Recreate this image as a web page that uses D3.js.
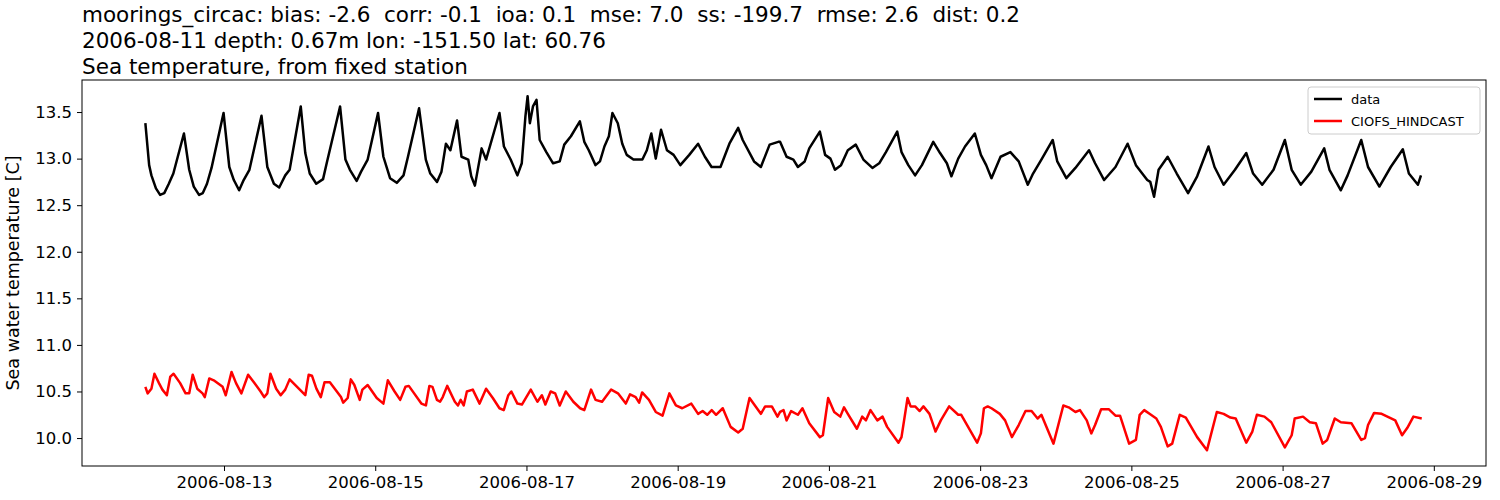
<!DOCTYPE html>
<html>
<head>
<meta charset="utf-8">
<script src="https://cdn.jsdelivr.net/npm/d3@7"></script>
<style>
  body { margin: 0; background: #fff; }
  text { font-family: "DejaVu Sans", sans-serif; }
  .title { white-space: pre; }
</style>
</head>
<body>
<svg id="chart" width="1500" height="500"></svg>
<script>
'use strict'

const titleLines = [
  'moorings_circac: bias: -2.6  corr: -0.1  ioa: 0.1  mse: 7.0  ss: -199.7  rmse: 2.6  dist: 0.2',
  '2006-08-11 depth: 0.67m lon: -151.50 lat: 60.76',
  'Sea temperature, from fixed station'
]
const yLabel = 'Sea water temperature [C]'
const yTicks = [10.0, 10.5, 11.0, 11.5, 12.0, 12.5, 13.0, 13.5]
const xTickDays = ['2006-08-13', '2006-08-15', '2006-08-17', '2006-08-19', '2006-08-21',
  '2006-08-23', '2006-08-25', '2006-08-27', '2006-08-29']

// time in days relative to 2006-08-13 00:00
const dataDays = [-1.04,-0.99,-0.96,-0.90,-0.845,-0.79,-0.73,-0.67,-0.53,-0.46,-0.40,-0.33,-0.28,-0.225,-0.165,-0.006,
  0.07,0.13,0.20,0.26,0.336,0.496,0.573,0.66,0.73,0.81,0.868,1.015,1.075,1.134,1.22,1.31,1.358,1.535,1.606,1.665,1.754,1.813,1.90,
  2.037,2.108,2.196,2.285,2.374,2.433,2.58,2.669,2.728,2.817,2.876,2.935,2.994,3.082,3.141,3.23,3.27,3.318,3.407,3.466,3.643,3.702,
  3.791,3.88,3.938,3.986,4.015,4.045,4.086,4.133,4.175,4.263,4.352,4.44,4.50,4.588,4.706,4.765,4.824,4.913,4.972,5.031,5.09,5.137,
  5.208,5.267,5.326,5.415,5.533,5.592,5.651,5.71,5.78,5.858,5.946,6.035,6.153,6.27,6.36,6.448,6.566,6.684,6.80,6.86,7.01,7.10,7.216,7.33,
  7.354,7.44,7.53,7.59,7.68,7.74,7.88,7.95,8.02,8.08,8.16,8.25,8.355,8.456,8.575,8.665,8.754,8.903,8.96,9.05,9.14,9.23,9.38,9.47,
  9.56,9.62,9.71,9.80,9.93,10.01,10.08,10.15,10.27,10.40,10.51,10.63,10.70,10.81,10.96,11.02,11.14,11.26,11.44,11.52,11.64,11.79,
  11.95,12.06,12.21,12.25,12.30,12.36,12.48,12.60,12.75,12.87,13.02,13.10,13.22,13.37,13.52,13.61,13.73,13.88,14.03,14.12,14.24,
  14.38,14.55,14.62,14.77,14.86,15.04,15.13,15.28,15.43,15.59,15.67,15.79,15.83]
const dataValues = [13.38,12.93,12.82,12.68,12.61,12.63,12.73,12.84,13.27,12.88,12.70,12.61,12.63,12.73,12.90,13.49,
  12.91,12.77,12.66,12.77,12.88,13.46,12.91,12.73,12.69,12.82,12.88,13.56,13.06,12.84,12.73,12.78,12.95,13.56,12.99,12.88,12.76,12.86,12.99,
  13.49,13.02,12.79,12.74,12.82,13.02,13.54,12.99,12.84,12.75,12.86,13.16,13.09,13.41,13.02,12.99,12.81,12.71,13.11,12.99,13.49,13.13,
  12.99,12.82,12.95,13.45,13.67,13.38,13.56,13.63,13.20,13.07,12.95,12.97,13.15,13.24,13.40,13.18,13.09,12.93,12.97,13.13,13.24,13.49,
  13.38,13.16,13.04,12.99,12.99,13.09,13.27,13.00,13.31,13.09,13.04,12.93,13.04,13.16,13.02,12.91,12.91,13.16,13.33,13.20,12.97,12.91,13.15,13.18,
  13.18,13.02,12.99,12.91,12.97,13.11,13.29,13.04,13.00,12.88,12.93,13.09,13.15,12.99,12.90,12.95,13.07,13.29,13.07,12.93,12.82,12.93,13.18,13.06,
  12.95,12.81,13.00,13.13,13.27,13.04,12.93,12.79,13.02,13.07,12.97,12.72,12.84,12.99,13.20,12.97,12.79,12.90,13.09,12.95,12.77,12.91,
  13.16,12.93,12.77,12.75,12.59,12.88,13.02,12.84,12.63,12.81,13.13,12.91,12.72,12.88,13.06,12.84,12.72,12.88,13.20,12.88,12.72,
  12.86,13.11,12.88,12.66,12.82,13.20,12.91,12.70,12.91,13.10,12.84,12.72,12.82]

const modelDays = [-1.04,-1.01,-0.96,-0.92,-0.86,-0.815,-0.756,-0.71,-0.667,-0.58,-0.508,-0.46,-0.414,-0.354,-0.284,-0.254,-0.195,-0.136,
  -0.018,0.023,0.10,0.159,0.23,0.319,0.395,0.484,0.531,0.573,0.614,0.69,0.75,0.81,0.868,1.075,1.12,1.163,1.222,1.28,1.33,1.40,1.547,
  1.577,1.636,1.677,1.724,1.795,1.83,1.90,2.02,2.108,2.167,2.256,2.33,2.40,2.444,2.61,2.67,2.716,2.757,2.816,2.858,2.893,2.952,3.053,
  3.094,3.13,3.17,3.212,3.29,3.38,3.466,3.555,3.643,3.70,3.76,3.80,3.88,3.94,4.057,4.145,4.204,4.25,4.32,4.38,4.44,4.52,4.62,4.71,
  4.765,4.854,4.913,5.00,5.12,5.21,5.314,5.37,5.444,5.49,5.53,5.62,5.71,5.80,5.89,5.976,6.06,6.18,6.27,6.33,6.39,6.45,6.508,6.596,
  6.70,6.80,6.86,6.95,7.10,7.157,7.245,7.32,
  7.354,7.40,7.44,7.50,7.59,7.65,7.74,7.88,7.92,7.99,8.07,8.15,8.20,8.25,8.37,8.44,8.49,8.55,8.64,8.71,8.77,8.92,8.96,9.04,9.08,
  9.14,9.20,9.25,9.33,9.41,9.48,9.59,9.71,9.75,9.96,10.01,10.05,10.10,10.15,10.26,10.33,10.42,10.51,10.60,10.68,10.76,10.81,10.97,
  11.10,11.17,11.26,11.32,11.41,11.47,11.52,11.60,11.70,11.79,11.85,11.97,12.06,12.11,12.17,12.24,12.33,12.39,12.48,12.54,12.64,
  12.72,12.87,13.00,13.13,13.22,13.31,13.38,13.52,13.60,13.66,13.76,13.85,14.03,14.12,14.16,14.27,14.36,14.44,14.53,14.59,14.69,
  14.77,14.91,15.04,15.09,15.13,15.21,15.31,15.49,15.58,15.65,15.73,15.84]
const modelValues = [10.55,10.48,10.53,10.69,10.59,10.52,10.46,10.66,10.69,10.59,10.48,10.48,10.68,10.53,10.48,10.44,10.64,10.62,
  10.55,10.46,10.71,10.59,10.48,10.68,10.60,10.50,10.44,10.48,10.69,10.53,10.46,10.52,10.63,10.46,10.68,10.67,10.53,10.44,10.60,10.60,10.44,
  10.38,10.43,10.63,10.57,10.41,10.52,10.57,10.43,10.37,10.62,10.50,10.41,10.55,10.56,10.37,10.35,10.56,10.55,10.41,10.39,10.44,10.56,10.39,
  10.35,10.41,10.35,10.50,10.52,10.37,10.53,10.43,10.32,10.30,10.46,10.50,10.37,10.36,10.52,10.39,10.46,10.36,10.50,10.48,10.35,10.50,10.39,10.32,
  10.30,10.52,10.41,10.39,10.52,10.48,10.37,10.47,10.44,10.38,10.49,10.41,10.28,10.24,10.48,10.35,10.32,10.37,10.26,10.29,10.25,10.30,10.25,10.32,
  10.12,10.06,10.10,10.43,10.26,10.34,10.34,10.23,
  10.28,10.30,10.19,10.29,10.25,10.32,10.16,10.01,10.03,10.43,10.28,10.23,10.33,10.26,10.10,10.23,10.19,10.30,10.19,10.23,10.12,9.95,10.01,10.43,10.34,
  10.34,10.29,10.34,10.26,10.07,10.19,10.34,10.25,10.25,9.95,10.05,10.32,10.34,10.32,10.26,10.19,10.01,10.14,10.29,10.29,10.21,10.25,9.94,
  10.35,10.33,10.28,10.30,10.19,10.05,10.14,10.31,10.31,10.24,10.24,9.94,9.98,10.25,10.30,10.26,10.21,10.12,9.91,9.94,10.25,
  10.22,10.01,9.87,10.28,10.26,10.22,10.21,9.95,10.07,10.25,10.23,10.17,9.90,10.03,10.21,10.23,10.17,10.16,9.94,9.98,10.21,
  10.17,10.16,9.98,10.00,10.14,10.27,10.26,10.19,10.03,10.11,10.23,10.21]

const base = new Date(2006, 7, 13)
const toDate = d => new Date(base.getTime() + d * 864e5)
const dataSeries = dataDays.map((d, i) => ({ t: toDate(d), v: dataValues[i] }))
const modelSeries = modelDays.map((d, i) => ({ t: toDate(d), v: modelValues[i] }))

const margin = { left: 82, top: 80, right: 14, bottom: 34 }
const W = 1500, H = 500
const svg = d3.select('#chart')

const x = d3.scaleTime()
  .domain([toDate(-1.878), toDate(16.69)])
  .range([margin.left, W - margin.right])
const y = d3.scaleLinear()
  .domain([9.70, 13.844])
  .range([H - margin.bottom, margin.top])

const parse = d3.timeParse('%Y-%m-%d')
const xAxis = d3.axisBottom(x)
  .tickValues(xTickDays.map(parse))
  .tickFormat(d3.timeFormat('%Y-%m-%d'))
  .tickSizeOuter(0).tickSize(5).tickPadding(5)
const yAxis = d3.axisLeft(y)
  .tickValues(yTicks).tickFormat(d3.format('.1f'))
  .tickSizeOuter(0).tickSize(5).tickPadding(5)

svg.append('g').attr('transform', `translate(0,${H - margin.bottom})`).call(xAxis)
  .call(g => g.selectAll('text').attr('font-size', 16.5).attr('font-family', 'DejaVu Sans').attr('fill', '#000'))
svg.append('g').attr('transform', `translate(${margin.left},0)`).call(yAxis)
  .call(g => g.selectAll('text').attr('font-size', 16.5).attr('font-family', 'DejaVu Sans').attr('fill', '#000'))
svg.selectAll('.domain').remove()

// frame
svg.append('rect')
  .attr('x', margin.left).attr('y', margin.top)
  .attr('width', W - margin.left - margin.right)
  .attr('height', H - margin.top - margin.bottom)
  .attr('fill', 'none').attr('stroke', '#000').attr('stroke-width', 1)

const line = d3.line().x(d => x(d.t)).y(d => y(d.v))
svg.append('path').datum(dataSeries).attr('d', line)
  .attr('fill', 'none').attr('stroke', '#000').attr('stroke-width', 2.5).attr('stroke-linejoin', 'round')
svg.append('path').datum(modelSeries).attr('d', line)
  .attr('fill', 'none').attr('stroke', '#ff0000').attr('stroke-width', 2.5).attr('stroke-linejoin', 'round')

// titles
svg.selectAll('.title').data(titleLines).enter().append('text')
  .attr('class', 'title')
  .attr('x', margin.left).attr('y', (d, i) => 22 + i * 26)
  .attr('font-size', 21.5).text(d => d)

svg.append('text')
  .attr('transform', `translate(19,${(margin.top + H - margin.bottom) / 2}) rotate(-90)`)
  .attr('text-anchor', 'middle').attr('font-size', 17.5).text(yLabel)

// legend
const lg = svg.append('g').attr('transform', 'translate(1308,87)')
lg.append('rect').attr('width', 172).attr('height', 47).attr('rx', 3)
  .attr('fill', '#fff').attr('stroke', '#ccc')
const items = [{ name: 'data', color: '#000' }, { name: 'CIOFS_HINDCAST', color: '#ff0000' }]
items.forEach((it, i) => {
  lg.append('line').attr('x1', 6).attr('x2', 34).attr('y1', 12 + i * 22).attr('y2', 12 + i * 22)
    .attr('stroke', it.color).attr('stroke-width', 2.5)
  lg.append('text').attr('x', 43).attr('y', 17 + i * 22).attr('font-size', 13).text(it.name)
})
</script>
</body>
</html>
